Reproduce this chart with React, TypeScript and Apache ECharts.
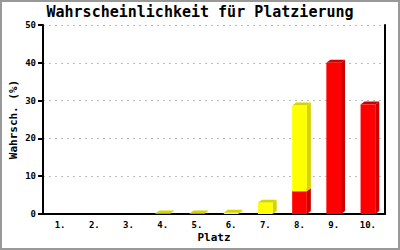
import React, { useEffect, useRef } from "react";
import * as echarts from "echarts";

const categories = ["1.", "2.", "3.", "4.", "5.", "6.", "7.", "8.", "9.", "10."];
const redValues = [0, 0, 0, 0, 0, 0, 0, 6, 40, 29];
const yellowValues = [0, 0, 0, 0.1, 0.1, 0.3, 3, 22.7, 0, 0];
const yTicks = { min: 0, max: 50, interval: 10 };

const FONT = "'DejaVu Sans Mono', monospace";

function make3D(front: string, dark: string) {
  return (params: any, api: any) => {
    const idx = api.value(0);
    const lo = api.value(1);
    const hi = api.value(2);
    if (hi - lo <= 0) return null;
    const p0 = api.coord([idx, lo]);
    const p1 = api.coord([idx, hi]);
    const band = api.size([1, 0])[0];
    const w = band * 0.43;
    const l = p0[0] - w / 2;
    const r = l + w;
    const dx = 4;
    const dy = 3;
    const yb = p0[1];
    const yt = p1[1];
    return {
      type: "group",
      children: [
        {
          type: "polygon",
          shape: { points: [[r, yb], [r + dx, yb - dy], [r + dx, yt - dy], [r, yt]] },
          style: { fill: dark },
        },
        {
          type: "polygon",
          shape: { points: [[l, yt], [l + dx, yt - dy], [r + dx, yt - dy], [r, yt]] },
          style: { fill: dark },
        },
        {
          type: "rect",
          shape: { x: l, y: yt, width: w, height: yb - yt },
          style: { fill: front },
        },
      ],
    };
  };
}

export default function App() {
  const ref = useRef<HTMLDivElement>(null);
  useEffect(() => {
    if (!ref.current) return;
    const chart = echarts.init(ref.current, undefined, { renderer: "svg" });
    const redData = categories.map((_, i) => [i, 0, redValues[i]]);
    const yellowData = categories.map((_, i) => [i, redValues[i], redValues[i] + yellowValues[i]]);
    chart.setOption({
      animation: false,
      backgroundColor: "#fff",
      title: {
        text: "Wahrscheinlichkeit für Platzierung",
        left: "center",
        top: 0,
        padding: [2, 5],
        textStyle: { fontFamily: FONT, fontSize: 15, fontWeight: "bold", color: "#000" },
      },
      grid: { left: 41, right: 13, top: 23, bottom: 34, outerBoundsMode: "none", containLabel: false },
      xAxis: {
        type: "category",
        data: categories,
        name: "Platz",
        nameLocation: "middle",
        nameGap: 18,
        nameMoveOverlap: false,
        nameTextStyle: { fontFamily: FONT, fontSize: 11, fontWeight: "bold", color: "#000" },
        axisLine: { lineStyle: { color: "#000", width: 2 } },
        axisTick: { show: false },
        axisLabel: { fontFamily: FONT, fontSize: 9, fontWeight: "bold", color: "#000", margin: 6 },
        splitLine: { show: false },
      },
      yAxis: [
        {
          type: "value",
          min: yTicks.min,
          max: yTicks.max,
          interval: yTicks.interval,
          name: "Wahrsch. (%)",
          nameLocation: "middle",
          nameGap: 24,
          nameMoveOverlap: false,
          nameTextStyle: { fontFamily: FONT, fontSize: 11, fontWeight: "bold", color: "#000" },
          axisLine: { show: true, lineStyle: { color: "#000", width: 2 } },
          axisTick: { show: true, length: 5, lineStyle: { color: "#000", width: 2 } },
          axisLabel: { fontFamily: FONT, fontSize: 9, fontWeight: "bold", color: "#000", margin: 7 },
          splitLine: { show: true, lineStyle: { color: "#bbb", type: [2, 4], width: 1 } },
        },
        {
          type: "value",
          min: yTicks.min,
          max: yTicks.max,
          interval: yTicks.interval,
          position: "right",
          axisLine: { show: true, lineStyle: { color: "#000", width: 2 } },
          axisTick: { show: false },
          axisLabel: { show: false },
          splitLine: { show: false },
        },
      ],
      series: [
        {
          type: "custom",
          renderItem: make3D("#ff0000", "#cc0000"),
          data: redData,
          encode: { x: 0, y: [1, 2] },
        },
        {
          type: "custom",
          renderItem: make3D("#ffff00", "#d4d400"),
          data: yellowData,
          encode: { x: 0, y: [1, 2] },
        },
      ],
    });
    return () => chart.dispose();
  }, []);
  return (
    <div
      style={{
        position: "fixed",
        left: 0,
        top: 0,
        width: 400,
        height: 250,
        boxSizing: "border-box",
        border: "2px solid #999",
        background: "#fff",
      }}
    >
      <div ref={ref} style={{ width: 396, height: 246 }} />
    </div>
  );
}
